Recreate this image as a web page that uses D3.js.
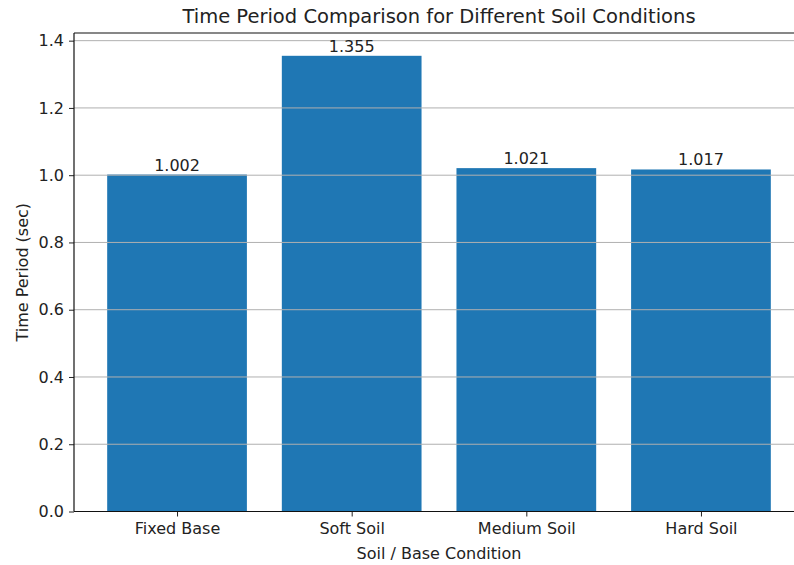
<!DOCTYPE html>
<html><head><meta charset="utf-8">
<script src="https://cdn.jsdelivr.net/npm/d3@7"></script>
<style>
body{margin:0;background:#fff;}
text{font-family:"DejaVu Sans",sans-serif;fill:#222;}
</style></head>
<body><svg id="c" width="794" height="565"></svg>
<script>
const categories = ["Fixed Base","Soft Soil","Medium Soil","Hard Soil"];
const values = [1.002,1.355,1.021,1.017];
const labels = ["1.002","1.355","1.021","1.017"];
const yTicks = [0.0,0.2,0.4,0.6,0.8,1.0,1.2,1.4];

const svg = d3.select("#c");
const L=74, R=804, T=33, B=511.5;
const x = d3.scaleLinear().domain([-0.59, 3.59]).range([L,R]);
const y = d3.scaleLinear().domain([0, 1.4228]).range([B,T]);
const bw = x(0.8)-x(0);

svg.selectAll("rect.bar").data(values).enter().append("rect")
  .attr("x",(d,i)=>x(i-0.4)).attr("width",bw)
  .attr("y",d=>y(d)).attr("height",d=>B-y(d)).attr("fill","#1f77b4");

// grid over bars
svg.selectAll("line.grid").data(yTicks).enter().append("line")
  .attr("x1",L).attr("x2",R).attr("y1",d=>y(d)).attr("y2",d=>y(d))
  .attr("stroke","#b0b0b0").attr("stroke-width",1);

const ya = d3.axisLeft(y).tickValues(yTicks).tickFormat(d3.format(".1f")).tickSize(5).tickPadding(5);
const gy = svg.append("g").attr("transform",`translate(${L},0)`).call(ya);
gy.select(".domain").remove();
gy.selectAll("text").style("font-size","16px").attr("fill","#222");
gy.selectAll("line").attr("stroke","#222");

const xa = d3.axisBottom(x).tickValues([0,1,2,3]).tickFormat((d)=>categories[d]).tickSize(5).tickPadding(6);
const gx = svg.append("g").attr("transform",`translate(0,${B})`).call(xa);
gx.select(".domain").remove();
gx.selectAll("text").style("font-size","16px").attr("fill","#222");
gx.selectAll("line").attr("stroke","#222");

// spines
svg.append("line").attr("x1",L).attr("x2",L).attr("y1",T).attr("y2",B).attr("stroke","#111").attr("stroke-width",1.2);
svg.append("line").attr("x1",L).attr("x2",R).attr("y1",B).attr("y2",B).attr("stroke","#111").attr("stroke-width",1.2);
svg.append("line").attr("x1",L).attr("x2",R).attr("y1",T).attr("y2",T).attr("stroke","#111").attr("stroke-width",1.2);
svg.append("line").attr("x1",R).attr("x2",R).attr("y1",T).attr("y2",B).attr("stroke","#111").attr("stroke-width",1.2);

svg.selectAll("text.val").data(values).enter().append("text")
  .attr("x",(d,i)=>x(i)).attr("y",d=>y(d)-4).attr("text-anchor","middle")
  .style("font-size","16px").text((d,i)=>labels[i]);

svg.append("text").attr("x",(L+R)/2).attr("y",23).attr("text-anchor","middle")
  .style("font-size","19.5px").text("Time Period Comparison for Different Soil Conditions");
svg.append("text").attr("x",(L+R)/2).attr("y",559).attr("text-anchor","middle")
  .style("font-size","16px").text("Soil / Base Condition");
svg.append("text").attr("transform",`translate(28,${(T+B)/2}) rotate(-90)`).attr("text-anchor","middle")
  .style("font-size","16px").text("Time Period (sec)");
</script></body></html>
